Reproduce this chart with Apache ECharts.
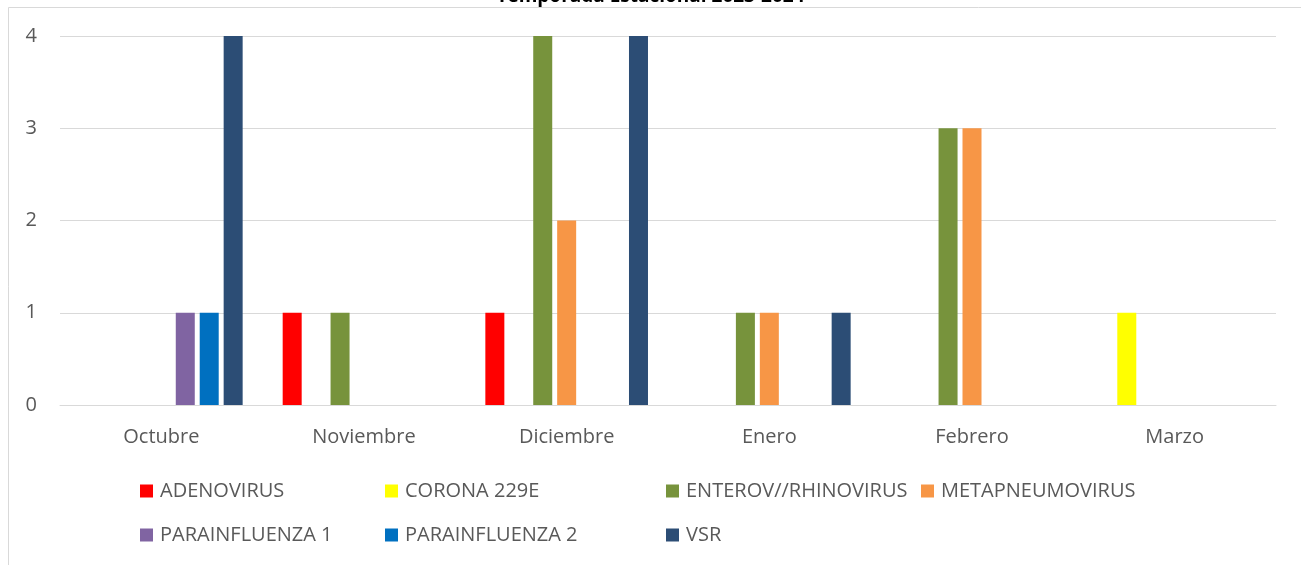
<!DOCTYPE html>
<html>
<head>
<meta charset="utf-8">
<script src="https://cdn.jsdelivr.net/npm/echarts@6/dist/echarts.min.js"></script>
<style>
  html, body { margin: 0; padding: 0; background: #fff; }
  #main { width: 1301px; height: 565px; }
</style>
</head>
<body>
<div id="main"></div>
<script>
// datos
var meses = ['Octubre', 'Noviembre', 'Diciembre', 'Enero', 'Febrero', 'Marzo'];
var virus = ['ADENOVIRUS', 'CORONA 229E', 'ENTEROV//RHINOVIRUS', 'METAPNEUMOVIRUS', 'PARAINFLUENZA 1', 'PARAINFLUENZA 2', 'VSR'];
var adenovirus = [0, 1, 1, 0, 0, 0];
var corona229e = [0, 0, 0, 0, 0, 1];
var enterovRhino = [0, 1, 4, 1, 3, 0];
var metapneumo = [0, 0, 2, 1, 3, 0];
var parainfluenza1 = [1, 0, 0, 0, 0, 0];
var parainfluenza2 = [1, 0, 0, 0, 0, 0];
var vsr = [4, 0, 4, 1, 0, 0];
var valores = [adenovirus, corona229e, enterovRhino, metapneumo, parainfluenza1, parainfluenza2, vsr];
var yTicks = [0, 1, 2, 3, 4];

var colores = ['#FF0000', '#FFFF00', '#77933C', '#F79646', '#8064A2', '#0070C0', '#2C4D75'];
// posiciones de la leyenda (dos filas como en Excel)
var legendPos = [[140, 481], [385, 481], [666, 481], [921, 481], [140, 525], [385, 525], [666, 525]];

var fuente = '"Open Sans", "Liberation Sans", Arial, sans-serif';

var chart = echarts.init(document.getElementById('main'));

var series = virus.map(function (name, i) {
    return {
        name: name,
        type: 'bar',
        data: valores[i],
        barWidth: 19,
        barGap: '26%',
        itemStyle: { color: colores[i] }
    };
});

var legends = virus.map(function (name, i) {
    return {
        data: [name],
        left: legendPos[i][0],
        top: legendPos[i][1],
        padding: 0,
        icon: 'rect',
        itemWidth: 13,
        itemHeight: 13,
        itemGap: 0,
        textStyle: { color: '#595959', fontSize: 20, fontFamily: fuente, padding: [0, 0, 0, 2] }
    };
});

chart.setOption({
    backgroundColor: '#fff',
    animation: false,
    title: {
        text: 'Temporada Estacional 2023-2024',
        left: 'center',
        top: -18,
        textStyle: { color: '#000', fontSize: 19, fontWeight: 'bold', fontFamily: fuente }
    },
    graphic: [{
        type: 'rect',
        shape: { x: 8.5, y: 7.5, width: 1310, height: 580 },
        style: { fill: 'none', stroke: '#d9d9d9', lineWidth: 1 },
        silent: true
    }],
    legend: legends,
    grid: { left: 60, right: 25, top: 36, bottom: 160 },
    xAxis: {
        type: 'category',
        data: meses,
        axisLine: { lineStyle: { color: '#d9d9d9', width: 1 } },
        axisTick: { show: false },
        axisLabel: { color: '#595959', fontSize: 20, fontFamily: fuente, margin: 22 }
    },
    yAxis: {
        type: 'value',
        min: yTicks[0],
        max: yTicks[yTicks.length - 1],
        interval: 1,
        axisLine: { show: false },
        axisTick: { show: false },
        axisLabel: { color: '#595959', fontSize: 20, fontFamily: fuente, margin: 23 },
        splitLine: { lineStyle: { color: '#d9d9d9', width: 1 } }
    },
    series: series
});
</script>
</body>
</html>
